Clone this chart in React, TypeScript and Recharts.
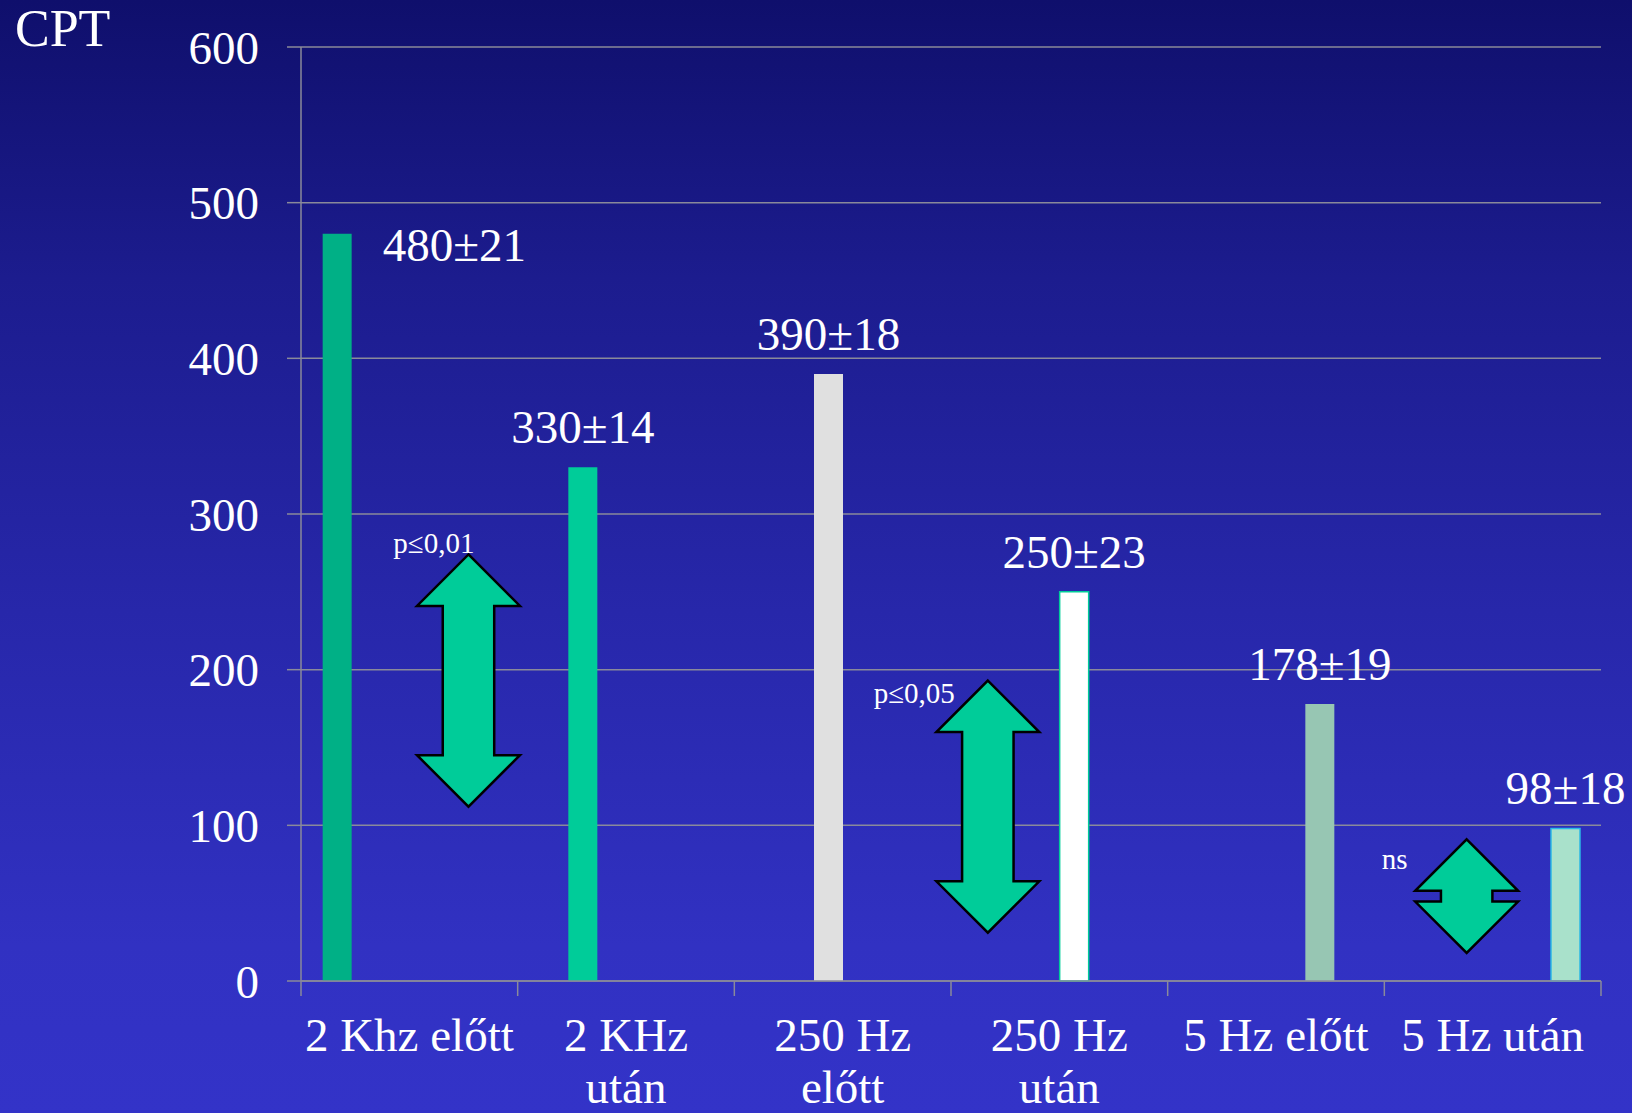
import React from "react";
import {
  Bar,
  BarChart,
  CartesianGrid,
  LabelList,
  ReferenceArea,
  XAxis,
  YAxis,
} from "recharts";

const CATEGORIES = [
  "2 Khz előtt",
  "2 KHz után",
  "250 Hz előtt",
  "250 Hz után",
  "5 Hz előtt",
  "5 Hz után",
];
// how each category label breaks across lines under the axis
const TICK_LINES = [
  ["2 Khz előtt"],
  ["2 KHz", "után"],
  ["250 Hz", "előtt"],
  ["250 Hz", "után"],
  ["5 Hz előtt"],
  ["5 Hz után"],
];
const MEANS = [480, 330, 390, 250, 178, 98];
const SDS = [21, 14, 18, 23, 19, 18];
const Y_TICKS = [0, 100, 200, 300, 400, 500, 600];

// significance arrows: category they sit in, value span, label
const ARROW_CATS = ["2 Khz előtt", "250 Hz után", "5 Hz után"];
const ARROW_FROM = [112, 31, 18];
const ARROW_TO = [274, 193, 91];
const ARROW_TEXT = ["p≤0,01", "p≤0,05", "ns"];

const FONT = "'Liberation Serif', 'Times New Roman', serif";
const GRID = "#8a8a9a";
const BAR_FILL = ["#00b086", "#00cc99", "#e0e0e0", "#ffffff", "#97c6b3", "#a9e1cb"];
const BAR_STROKE = ["none", "none", "none", "#00cc99", "none", "#2ab8e6"];
// arrow placement inside its band (centre fraction) and label offset from the tip
const ARROW_POS = [0.773, 0.17, 0.38];
const ARROW_LABEL_DX = [6, -33, -59];
const ARROW_LABEL_DY = [-1, 22, 30];
const ARROW_WIDTH = 0.475;

const data = CATEGORIES.map((name, i) => ({ name, [`s${i}`]: MEANS[i] }));

function ValueLabel(props: any) {
  const { x, y, width, value, series } = props;
  if (value == null) return null;
  const text = `${MEANS[series]}±${SDS[series]}`;
  const first = series === 0;
  return (
    <text
      x={first ? x + width + 31 : x + width / 2}
      y={first ? y + 27 : y - 24}
      textAnchor={first ? "start" : "middle"}
      fill="#ffffff"
      fontSize={47}
      fontFamily={FONT}
    >
      {text}
    </text>
  );
}

function CategoryTick(props: any) {
  const { x, y, index } = props;
  const band = 1300 / CATEGORIES.length;
  const lines = TICK_LINES[index] ?? [];
  return (
    <g>
      <line x1={x - band / 2} y1={y} x2={x - band / 2} y2={y + 15} stroke={GRID} strokeWidth={1.5} />
      {index === CATEGORIES.length - 1 && (
        <line x1={x + band / 2} y1={y} x2={x + band / 2} y2={y + 15} stroke={GRID} strokeWidth={1.5} />
      )}
      <text textAnchor="middle" fill="#ffffff" fontSize={47} fontFamily={FONT}>
        {lines.map((l: string, k: number) => (
          <tspan key={k} x={x} y={y + 70 + k * 52}>
            {l}
          </tspan>
        ))}
      </text>
    </g>
  );
}

function arrowShape(i: number) {
  return (props: any) => {
    const { x, y, width, height } = props;
    const w = width * ARROW_WIDTH;
    const cx = x + width * ARROW_POS[i];
    const top = y;
    const bot = y + height;
    const hw = w / 2;
    const sw = w / 4;
    const h = w / 2;
    const d = [
      `M${cx},${top}`,
      `L${cx + hw},${top + h}`,
      `L${cx + sw},${top + h}`,
      `L${cx + sw},${bot - h}`,
      `L${cx + hw},${bot - h}`,
      `L${cx},${bot}`,
      `L${cx - hw},${bot - h}`,
      `L${cx - sw},${bot - h}`,
      `L${cx - sw},${top + h}`,
      `L${cx - hw},${top + h}`,
      "Z",
    ].join(" ");
    return (
      <g>
        <path d={d} fill="#00cc99" stroke="#000000" strokeWidth={2.5} strokeLinejoin="miter" />
        <text
          x={cx + ARROW_LABEL_DX[i]}
          y={top + ARROW_LABEL_DY[i]}
          textAnchor="end"
          fill="#ffffff"
          fontSize={29}
          fontFamily={FONT}
        >
          {ARROW_TEXT[i]}
        </text>
      </g>
    );
  };
}

export default function App() {
  return (
    <div
      style={{
        position: "fixed",
        left: 0,
        top: 0,
        width: 1632,
        height: 1113,
        background:
          "linear-gradient(to bottom, #0f0f6c 0%, #1c1c8e 25%, #2727aa 55%, #3131c2 85%, #3333c8 100%)",
        fontFamily: FONT,
      }}
    >
      <div
        style={{
          position: "absolute",
          left: 15,
          top: 3,
          fontSize: 52,
          lineHeight: "52px",
          color: "#ffffff",
        }}
      >
        CPT
      </div>
      <BarChart
        width={1632}
        height={1113}
        data={data}
        margin={{ top: 47, right: 31, left: 0, bottom: 0 }}
        barCategoryGap="10%"
        barGap={0}
      >
        <CartesianGrid vertical={false} stroke={GRID} strokeWidth={1.5} />
        <XAxis
          dataKey="name"
          height={132}
          interval={0}
          tickSize={0}
          tickMargin={0}
          axisLine={{ stroke: GRID, strokeWidth: 1.5 }}
          tick={<CategoryTick />}
        />
        <YAxis
          domain={[0, 600]}
          ticks={Y_TICKS}
          width={301}
          tickSize={14}
          tickMargin={28}
          axisLine={{ stroke: GRID, strokeWidth: 1.5 }}
          tickLine={{ stroke: GRID, strokeWidth: 1.5 }}
          tick={{ fill: "#ffffff", fontSize: 47, fontFamily: FONT }}
        />
        {CATEGORIES.map((_, i) => (
          <Bar
            key={i}
            dataKey={`s${i}`}
            fill={BAR_FILL[i]}
            stroke={BAR_STROKE[i]}
            strokeWidth={1.5}
            isAnimationActive={false}
          >
            <LabelList
              dataKey={`s${i}`}
              content={(p: any) => <ValueLabel {...p} series={i} />}
            />
          </Bar>
        ))}
        {ARROW_CATS.map((c, i) => (
          <ReferenceArea
            key={i}
            x1={c}
            x2={c}
            y1={ARROW_FROM[i]}
            y2={ARROW_TO[i]}
            shape={arrowShape(i)}
          />
        ))}
      </BarChart>
    </div>
  );
}
